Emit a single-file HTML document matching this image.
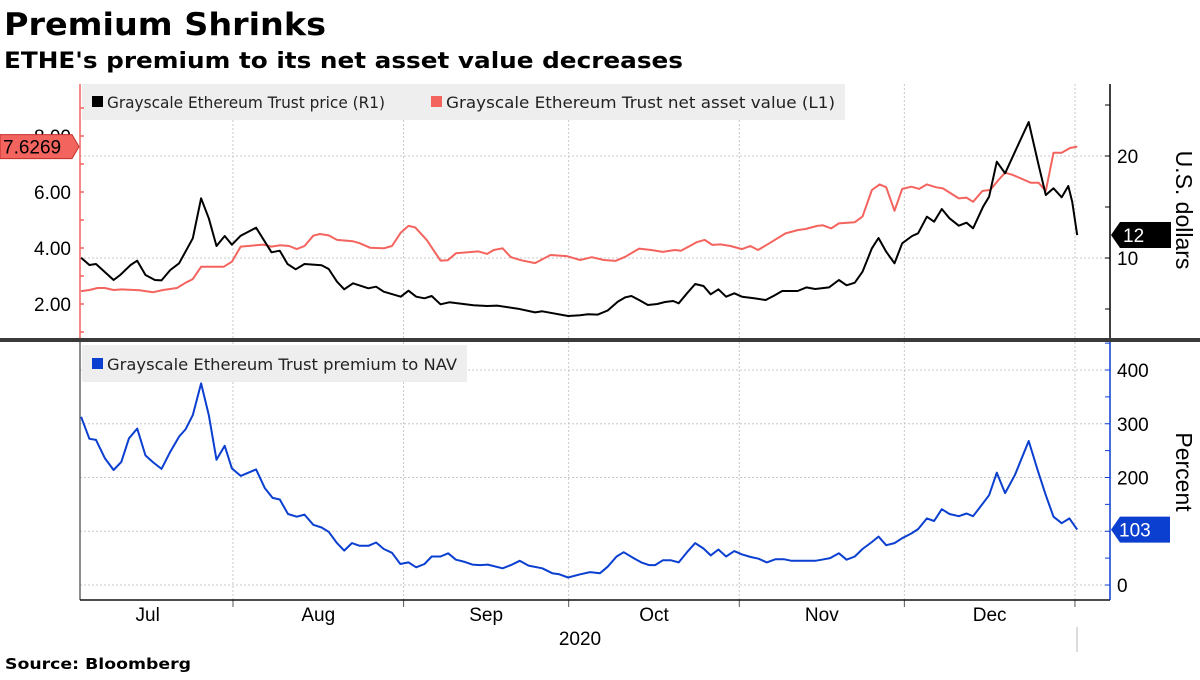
<!DOCTYPE html>
<html><head><meta charset="utf-8">
<style>
html,body{margin:0;padding:0;background:#fff;}
body{width:1200px;height:675px;overflow:hidden;font-family:"Liberation Sans",sans-serif;}
svg text{font-family:"Liberation Sans",sans-serif;}
svg text.dv{font-family:"DejaVu Sans","Liberation Sans",sans-serif;}
</style></head>
<body>
<svg id="chart" width="1200" height="675" viewBox="0 0 1200 675" xmlns="http://www.w3.org/2000/svg">
<text class="dv" x="4" y="35" font-size="31" font-weight="bold" fill="#000" textLength="322" lengthAdjust="spacingAndGlyphs">Premium Shrinks</text>
<text class="dv" x="4" y="68" font-size="22" font-weight="bold" fill="#000" textLength="679" lengthAdjust="spacingAndGlyphs">ETHE's premium to its net asset value decreases</text>
<g id="grid"></g>
<rect x="82" y="84" width="763" height="36" fill="#eeeeee"/>
<rect x="92" y="96" width="11" height="11" fill="#000"/>
<text class="dv" x="107" y="108" font-size="16" fill="#222" textLength="278" lengthAdjust="spacingAndGlyphs">Grayscale Ethereum Trust price (R1)</text>
<rect x="431" y="96" width="11" height="11" fill="#f4645f"/>
<text class="dv" x="446" y="108" font-size="16" fill="#222" textLength="389" lengthAdjust="spacingAndGlyphs">Grayscale Ethereum Trust net asset value (L1)</text>
<rect x="82" y="345" width="385" height="37" fill="#eeeeee"/>
<rect x="92" y="358" width="11" height="11" fill="#0b3fd0"/>
<text class="dv" x="107" y="370" font-size="16" fill="#222" textLength="350" lengthAdjust="spacingAndGlyphs">Grayscale Ethereum Trust premium to NAV</text>
<g id="axes"></g>
<g id="series"></g>
<rect x="0" y="338" width="1200" height="4" fill="#3a3a3a"/>
<g id="labels"></g>
<text transform="translate(1176,210) rotate(90)" text-anchor="middle" font-size="23" fill="#000">U.S. dollars</text>
<text transform="translate(1176,472) rotate(90)" text-anchor="middle" font-size="23" fill="#000">Percent</text>
<text x="580" y="645" text-anchor="middle" font-size="19" fill="#000">2020</text>
<line x1="1077" y1="627" x2="1077" y2="652" stroke="#bbb" stroke-width="1"/>
<text class="dv" x="5" y="669" font-size="15" font-weight="bold" fill="#000" textLength="186" lengthAdjust="spacingAndGlyphs">Source: Bloomberg</text>
</svg>
<script>
// days since Jul 1 2020
const priceDays=[3.4,4.9,6.1,9.3,10.5,12.4,13.6,15.1,16.8,18.0,19.6,21.2,23.7,25.2,26.6,28.0,29.5,30.8,32.4,35.2,38.0,39.5,40.9,42.4,44.0,47.1,48.4,49.9,51.2,52.8,55.6,57.0,58.4,61.5,62.9,64.3,65.8,67.1,68.7,70.3,74.7,77.2,79.0,82.8,85.9,87.2,91.9,94.1,95.5,97.3,99.1,100.9,102.3,103.4,104.8,106.4,108.1,109.5,111.0,112.0,113.5,115.0,116.5,117.8,119.2,120.6,122.1,123.5,125.7,127.8,129.3,130.8,133.6,135.2,136.8,139.3,141.1,142.5,144.0,145.4,147.1,148.3,149.7,151.2,152.6,154.4,155.5,157.1,158.4,159.8,161.2,162.9,164.3,165.5,167.3,168.4,169.8,171.3,173.1,175.6,177.4,178.7,180.1,181.6,182.8,183.5,184.4];
const price=[10.03,9.31,9.41,7.84,8.33,9.31,9.74,8.33,7.84,7.8,8.82,9.48,11.93,15.85,13.89,11.18,12.16,11.3,12.19,12.97,10.56,10.72,9.41,8.89,9.41,9.28,8.92,7.68,6.93,7.52,7.03,7.19,6.7,6.21,6.79,6.21,6.05,6.27,5.46,5.66,5.36,5.29,5.33,5.03,4.67,4.77,4.31,4.38,4.48,4.45,4.85,5.72,6.15,6.27,5.88,5.39,5.49,5.69,5.78,5.56,6.54,7.45,7.25,6.44,6.93,6.21,6.54,6.21,6.05,5.88,6.3,6.76,6.76,7.12,6.96,7.12,7.84,7.32,7.58,8.66,10.95,11.96,10.62,9.48,11.44,12.16,12.42,14.05,13.56,14.8,13.89,13.17,13.46,12.91,15.03,16.01,19.44,18.3,20.42,23.33,19.12,16.18,16.83,15.95,17.06,15.52,12.25];
const navDays=[3.4,4.9,6.4,7.7,9.3,10.8,14.0,16.5,18.3,20.8,22.4,23.7,25.2,29.3,30.8,32.4,36.5,38.0,39.6,41.2,42.6,44.0,45.6,46.8,48.4,49.9,52.8,54.0,55.9,58.4,59.9,61.5,62.9,64.1,66.2,68.7,70.0,71.5,75.6,77.2,78.4,80.0,81.5,83.4,85.9,88.7,91.6,94.1,96.2,98.4,100.5,102.3,104.8,107.0,109.1,111.3,112.4,113.8,115.3,116.7,118.1,119.6,121.4,123.5,125.0,126.4,128.5,131.4,133.6,135.0,137.2,138.2,139.7,141.1,144.0,145.4,147.1,148.5,149.7,151.2,152.6,154.3,155.7,157.1,158.7,160.0,162.9,164.3,165.5,167.2,168.6,170.1,171.3,172.7,176.0,177.4,178.7,180.1,181.6,183.1,184.4];
const nav=[2.46,2.5,2.57,2.57,2.5,2.52,2.49,2.42,2.5,2.57,2.76,2.89,3.33,3.33,3.51,4.05,4.12,4.05,4.1,4.07,3.96,4.07,4.44,4.5,4.45,4.29,4.24,4.17,4.01,3.99,4.07,4.55,4.79,4.74,4.29,3.55,3.56,3.81,3.88,3.79,3.93,3.99,3.67,3.56,3.46,3.75,3.71,3.57,3.67,3.57,3.54,3.69,3.98,3.93,3.86,3.93,3.9,4.05,4.21,4.29,4.11,4.13,4.07,3.96,4.07,3.93,4.17,4.52,4.64,4.68,4.79,4.81,4.7,4.88,4.92,5.12,6.07,6.27,6.17,5.33,6.11,6.19,6.11,6.27,6.17,6.13,5.77,5.8,5.65,6.04,6.07,6.43,6.69,6.61,6.33,6.33,6.04,7.4,7.4,7.57,7.62];
const premDays=[3.4,4.9,6.1,7.7,9.3,10.7,12.1,13.6,15.1,16.5,18.0,19.6,21.2,22.4,23.7,25.2,26.6,28.0,29.5,30.8,32.4,35.2,36.8,38.2,39.5,41.0,42.6,44.0,45.6,47.1,48.4,49.9,51.2,52.6,54.0,55.6,57.0,58.4,59.9,61.4,62.9,64.3,65.8,67.1,68.7,70.1,71.5,73.1,74.5,75.9,77.3,80.0,81.5,83.1,84.7,87.2,89.0,90.3,91.9,94.1,95.9,97.7,99.1,100.7,102.0,103.8,105.2,106.6,107.7,109.1,110.6,112.0,113.5,115.0,116.5,117.8,119.2,120.6,122.1,123.5,125.1,126.5,128.0,129.6,131.1,132.5,136.8,138.0,139.5,141.1,142.5,144.0,145.4,147.1,148.3,149.7,151.2,152.6,154.3,155.5,157.1,158.4,159.8,161.2,162.9,164.3,165.5,167.0,168.4,169.8,171.3,173.1,175.6,177.3,178.7,180.1,181.6,183.0,184.4];
const premium=[313,272,270,236,214,229,273,291,241,228,216,248,276,290,316,375,316,233,259,217,203,215,180,162,159,132,127,131,112,107,99,78,64,78,73,73,79,67,60,39,42,33,39,53,53,59,47,43,38,37,38,31,37,45,36,31,22,20,14,20,24,22,34,53,61,50,42,37,37,46,46,42,61,78,68,55,66,53,63,57,52,49,42,48,48,45,45,47,50,59,47,53,67,80,90,74,78,87,96,104,124,119,141,132,128,133,128,148,167,209,171,205,268,211,167,127,115,124,103];
const months=["Jul","Aug","Sep","Oct","Nov","Dec"];
const monthStart=[0,31,62,92,123,153,184];
const navTicks=[2,4,6,8];
const priceTicks=[10,20];
const premTicks=[0,100,200,300,400];
const premLabels=[0,200,300,400];

const NS="http://www.w3.org/2000/svg";
const xs=d=>62.4+d*5.503;
const navY=v=>304-(v-2)*28;
const priceY=v=>156-(v-20)*10.2;
const premY=v=>585-v*0.5375;
function mk(tag,attrs,parent,txt){const e=document.createElementNS(NS,tag);for(const k in attrs)e.setAttribute(k,attrs[k]);if(txt!==undefined)e.textContent=txt;parent.appendChild(e);return e;}
const grid=document.getElementById('grid'),axes=document.getElementById('axes'),ser=document.getElementById('series'),lab=document.getElementById('labels');
for(let i=1;i<monthStart.length;i++){const x=xs(monthStart[i]);
 let l=mk('line',{x1:x,y1:84,x2:x,y2:338,stroke:'#c8c8c8','stroke-dasharray':'2,2'},grid);
 
 
 l=mk('line',{x1:x,y1:342,x2:x,y2:600,stroke:'#c8c8c8','stroke-dasharray':'2,2'},grid);
 
 
 l=mk('line',{x1:x,y1:600,x2:x,y2:607,stroke:'#555'},axes);
 
 
}
priceTicks.forEach(v=>{const l=mk('line',{x1:80,y1:priceY(v),x2:1110,y2:priceY(v),stroke:'#c8c8c8','stroke-dasharray':'2,2'},grid);
 
 });
premTicks.forEach(v=>{const l=mk('line',{x1:80,y1:premY(v),x2:1110,y2:premY(v),stroke:'#c8c8c8','stroke-dasharray':'2,2'},grid);
 
 });
let a=mk('line',{x1:80,y1:84,x2:80,y2:338,stroke:'#f4645f','stroke-width':1.5},axes);


for(let v=1;v<=9;v++){const y=navY(v);if(y<86||y>336)continue;const t=mk('line',{x1:80,y1:y,x2:84,y2:y,stroke:'#f4645f','stroke-width':1.5},axes);
 
 }
a=mk('line',{x1:1110,y1:84,x2:1110,y2:338,stroke:'#000','stroke-width':1.5},axes);


for(let v=5;v<=25;v+=5){const t=mk('line',{x1:1110,y1:priceY(v),x2:1105,y2:priceY(v),stroke:'#000'},axes);
 
 }
a=mk('line',{x1:80,y1:342,x2:80,y2:600,stroke:'#666','stroke-width':1.5},axes);


a=mk('line',{x1:80,y1:600,x2:1110,y2:600,stroke:'#111','stroke-width':1.5},axes);


a=mk('line',{x1:1110,y1:342,x2:1110,y2:600,stroke:'#0b3fd0','stroke-width':1.5},axes);


for(let v=0;v<=450;v+=50){const t=mk('line',{x1:1110,y1:premY(v),x2:1105,y2:premY(v),stroke:'#0b3fd0'},axes);
 
 }
function path(days,vals,fy){return days.map((d,i)=>(i?'L':'M')+xs(d).toFixed(1)+','+fy(vals[i]).toFixed(1)).join('');}
let p=mk('path',{d:path(navDays,nav,navY),fill:'none',stroke:'#f4645f','stroke-width':2,'stroke-linejoin':'round'},ser);


p=mk('path',{d:path(priceDays,price,priceY),fill:'none',stroke:'#000','stroke-width':2,'stroke-linejoin':'round'},ser);


p=mk('path',{d:path(premDays,premium,premY),fill:'none',stroke:'#0b3fd0','stroke-width':2,'stroke-linejoin':'round'},ser);


navTicks.forEach(v=>{const t=mk('text',{x:71,y:navY(v)+7,'text-anchor':'end','font-size':19,fill:'#000'},lab,v.toFixed(2));
 
 });
priceTicks.forEach(v=>{const t=mk('text',{x:1117,y:priceY(v)+7,'font-size':19,fill:'#000'},lab,String(v));
 
 });
premLabels.forEach(v=>{const t=mk('text',{x:1117,y:premY(v)+7,'font-size':19,fill:'#000'},lab,String(v));
 
 });
months.forEach((m,i)=>{const t=mk('text',{x:(xs(monthStart[i])+xs(monthStart[i+1]))/2,y:621,'text-anchor':'middle','font-size':19,fill:'#000'},lab,m);
 
 });
const lastNav=nav[nav.length-1],lastPrice=price[price.length-1],lastPrem=premium[premium.length-1];
let y=navY(lastNav);
let b=mk('path',{d:`M0,${y-12}L72,${y-12}L79,${y}L72,${y+12}L0,${y+12}Z`,fill:'#f4645f',stroke:'#c0302a'},lab);


b=mk('text',{x:3,y:y+7,'font-size':19,fill:'#000'},lab,'7.6269');


y=priceY(lastPrice);
b=mk('path',{d:`M1111,${y}L1120,${y-13}L1171,${y-13}L1171,${y+13}L1120,${y+13}Z`,fill:'#000'},lab);


b=mk('text',{x:1123,y:y+7,'font-size':19,fill:'#fff'},lab,String(Math.round(lastPrice)));


y=premY(lastPrem);
b=mk('path',{d:`M1111,${y}L1120,${y-13}L1170,${y-13}L1170,${y+13}L1120,${y+13}Z`,fill:'#0b3fd0'},lab);


b=mk('text',{x:1119,y:y+7,'font-size':19,fill:'#fff'},lab,String(lastPrem));


</script>
</body></html>
